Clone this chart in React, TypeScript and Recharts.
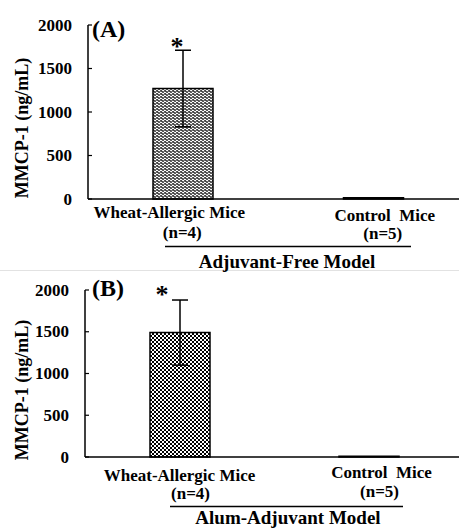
import { BarChart, Bar, XAxis, YAxis, ErrorBar, LabelList } from 'recharts';

const FONT = '"Liberation Serif", "Times New Roman", serif';

const categories = ['Wheat-Allergic Mice', 'Control  Mice'];
const groupSizes = ['(n=4)', '(n=5)'];
const yTicks = [0, 500, 1000, 1500, 2000];

// (A) adjuvant-free model
const freeMeans = [1270, 15];
const freeSD = [440, null];
// (B) alum-adjuvant model
const alumMeans = [1490, 10];
const alumSD = [390, null];

const build = (means: number[], sds: (number | null)[]) =>
  categories.map((name, i) => ({ name, n: groupSizes[i], mean: means[i], sd: sds[i] }));

const freeData = build(freeMeans, freeSD);
const alumData = build(alumMeans, alumSD);

interface PanelProps {
  data: { name: string; n: string; mean: number; sd: number | null }[];
  top: number;
  patternId: string;
  axisW: number;
  xAxisH: number;
  marginRight: number;
  labelDx: number[][]; // [index][line]
  labelY: number[][];
  starDx: number;
  starDy: number;
}

function Panel(p: PanelProps) {
  const YTick = (t: any) => {
    const { y, payload } = t;
    return (
      <g>
        <text x={p.axisW - 16} y={y} textAnchor="end" dominantBaseline="central"
          fontFamily={FONT} fontWeight="bold" fontSize={17} fill="#000">
          {payload.value}
        </text>
        <line x1={p.axisW} x2={p.axisW + 4} y1={y} y2={y} stroke="#000" strokeWidth={1.2} />
      </g>
    );
  };

  const XTick = (t: any) => {
    const { x, payload } = t;
    const i = payload.index;
    const row = p.data[i];
    return (
      <g fontFamily={FONT} fontWeight="bold" fontSize={17} fill="#000">
        <text x={x + p.labelDx[i][0]} y={p.labelY[i][0]} textAnchor="middle" style={{ whiteSpace: 'pre' }}>
          {row.name}
        </text>
        <text x={x + p.labelDx[i][1]} y={p.labelY[i][1]} textAnchor="middle">
          {row.n}
        </text>
      </g>
    );
  };

  const Star = (l: any) => {
    const { x, y, width, height, value, index } = l;
    const sd = p.data[index].sd;
    if (!sd || !value) return null;
    const errTop = y - (sd * height) / value;
    return (
      <text x={x + width / 2 + p.starDx} y={errTop + p.starDy} textAnchor="middle"
        fontFamily={FONT} fontWeight="bold" fontSize={26} fill="#000">
        *
      </text>
    );
  };

  return (
    <div style={{ position: 'absolute', left: 0, top: p.top }}>
      <BarChart width={459} height={265} data={p.data}
        margin={{ top: 25, right: p.marginRight, left: 0, bottom: 0 }}>
        <defs>
          <pattern id="wave" width={4} height={3} patternUnits="userSpaceOnUse">
            <rect width={4} height={3} fill="#fff" />
            <path d="M0 1.5 Q1 0 2 1.5 T4 1.5" fill="none" stroke="#1a1a1a" strokeWidth={1.3} />
          </pattern>
          <pattern id="checker" width={4} height={4} patternUnits="userSpaceOnUse">
            <rect width={4} height={4} fill="#fff" />
            <rect x={0} y={0} width={2} height={2} fill="#000" />
            <rect x={2} y={2} width={2} height={2} fill="#000" />
          </pattern>
        </defs>
        <XAxis dataKey="name" interval={0} height={p.xAxisH} tickLine={false}
          axisLine={{ stroke: '#000', strokeWidth: 1.5 }} tick={XTick} />
        <YAxis domain={[0, 2000]} ticks={yTicks} width={p.axisW} tickLine={false}
          axisLine={{ stroke: '#000', strokeWidth: 1.5 }} tick={YTick} />
        <Bar dataKey="mean" barSize={60} fill={`url(#${p.patternId})`} stroke="#000"
          strokeWidth={1.5} isAnimationActive={false}>
          <ErrorBar dataKey="sd" width={8} stroke="#000" strokeWidth={1.5} direction="y" />
          <LabelList dataKey="mean" content={Star} />
        </Bar>
      </BarChart>
    </div>
  );
}

export default function App() {
  const bold = { fontFamily: FONT, fontWeight: 'bold' as const, fill: '#000' };
  return (
    <div style={{ position: 'absolute', left: 0, top: 0, width: 459, height: 530, background: '#fff', overflow: 'hidden' }}>
      <Panel data={freeData} top={0} patternId="wave" axisW={88} xAxisH={66} marginRight={-10}
        labelDx={[[-14, -1], [11, 9]]} labelY={[[218, 238], [221, 239]]}
        starDx={-6} starDy={5} />
      <Panel data={alumData} top={265} patternId="checker" axisW={85} xAxisH={73} marginRight={-4}
        labelDx={[[0, 11], [13, 11]]} labelY={[[216, 234], [213, 232]]}
        starDx={-18} starDy={3} />
      <svg width={459} height={530} style={{ position: 'absolute', left: 0, top: 0, pointerEvents: 'none' }}>
        <line x1={0} x2={459} y1={270.5} y2={270.5} stroke="#e2e2e2" strokeWidth={1} />
        <text x={92} y={37} fontSize={24} {...bold}>(A)</text>
        <text x={92} y={296} fontSize={24} {...bold}>(B)</text>
        <text x={22} y={128} fontSize={18} textAnchor="middle" dominantBaseline="central"
          transform="rotate(-90 22 128)" {...bold}>MMCP-1 (ng/mL)</text>
        <text x={22} y={390} fontSize={18} textAnchor="middle" dominantBaseline="central"
          transform="rotate(-90 22 390)" {...bold}>MMCP-1 (ng/mL)</text>
        <line x1={165} x2={411} y1={246.5} y2={246.5} stroke="#000" strokeWidth={1.3} />
        <line x1={170} x2={403} y1={506.5} y2={506.5} stroke="#000" strokeWidth={1.3} />
        <text x={287} y={268} fontSize={19} textAnchor="middle" {...bold}>Adjuvant-Free Model</text>
        <text x={288} y={524} fontSize={19} textAnchor="middle" {...bold}>Alum-Adjuvant Model</text>
      </svg>
    </div>
  );
}
